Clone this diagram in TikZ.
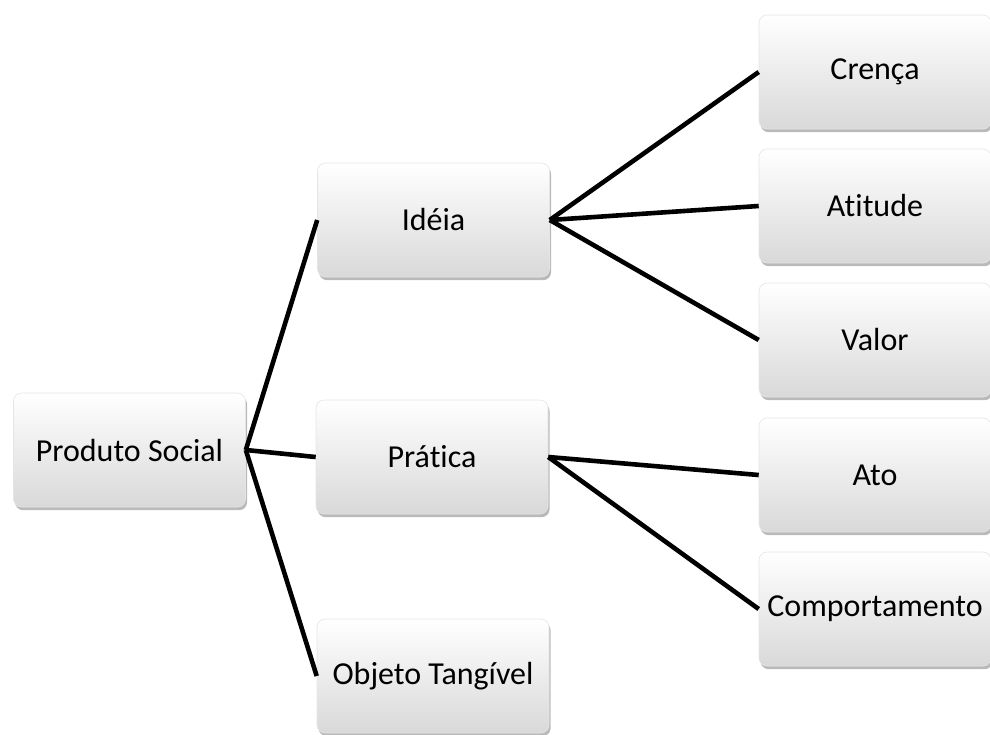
\documentclass[tikz,border=0pt]{standalone}
\usepackage{fontspec}
\setmainfont[Ligatures={NoCommon}]{Carlito}
\usetikzlibrary{shadows}

\begin{document}
\begin{tikzpicture}[
    x=0.5pt, y=-0.5pt,
    box/.style={rectangle, rounded corners=4pt, top color=white, bottom color=gray!30,
        draw=gray!20, line width=0.3pt, minimum width=116pt, minimum height=57pt, inner sep=0pt,
        font=\fontsize{16}{19}\selectfont,
        drop shadow={shadow xshift=0.8pt, shadow yshift=-1.6pt, opacity=0.45, fill=gray!80!black}},
    link/.style={line width=2.3pt}
]
\useasboundingbox (0,0) rectangle (990,734);

\node[box] (ps) at (129.5,450) {Produto Social};

\node[box] (idea) at (433.5,220) {Idéia};
\node[box] (prat) at (432,457) {Prática};
\node[box] (obj) at (433,676) {Objeto Tangível};

\node[box] (cren) at (875,72) {Crença};
\node[box] (atit) at (875,206) {Atitude};
\node[box] (valor) at (875,340) {Valor};
\node[box] (ato) at (875,475) {Ato};
\node[box] (comp) at (875,609) {Comportamento};

\draw[link] (ps.east)--(idea.west);
\draw[link] (ps.east)--(prat.west);
\draw[link] (ps.east)--(obj.west);

\draw[link] (idea.east)--(cren.west);
\draw[link] (idea.east)--(atit.west);
\draw[link] (idea.east)--(valor.west);

\draw[link] (prat.east)--(ato.west);
\draw[link] (prat.east)--(comp.west);

\end{tikzpicture}
\end{document}
